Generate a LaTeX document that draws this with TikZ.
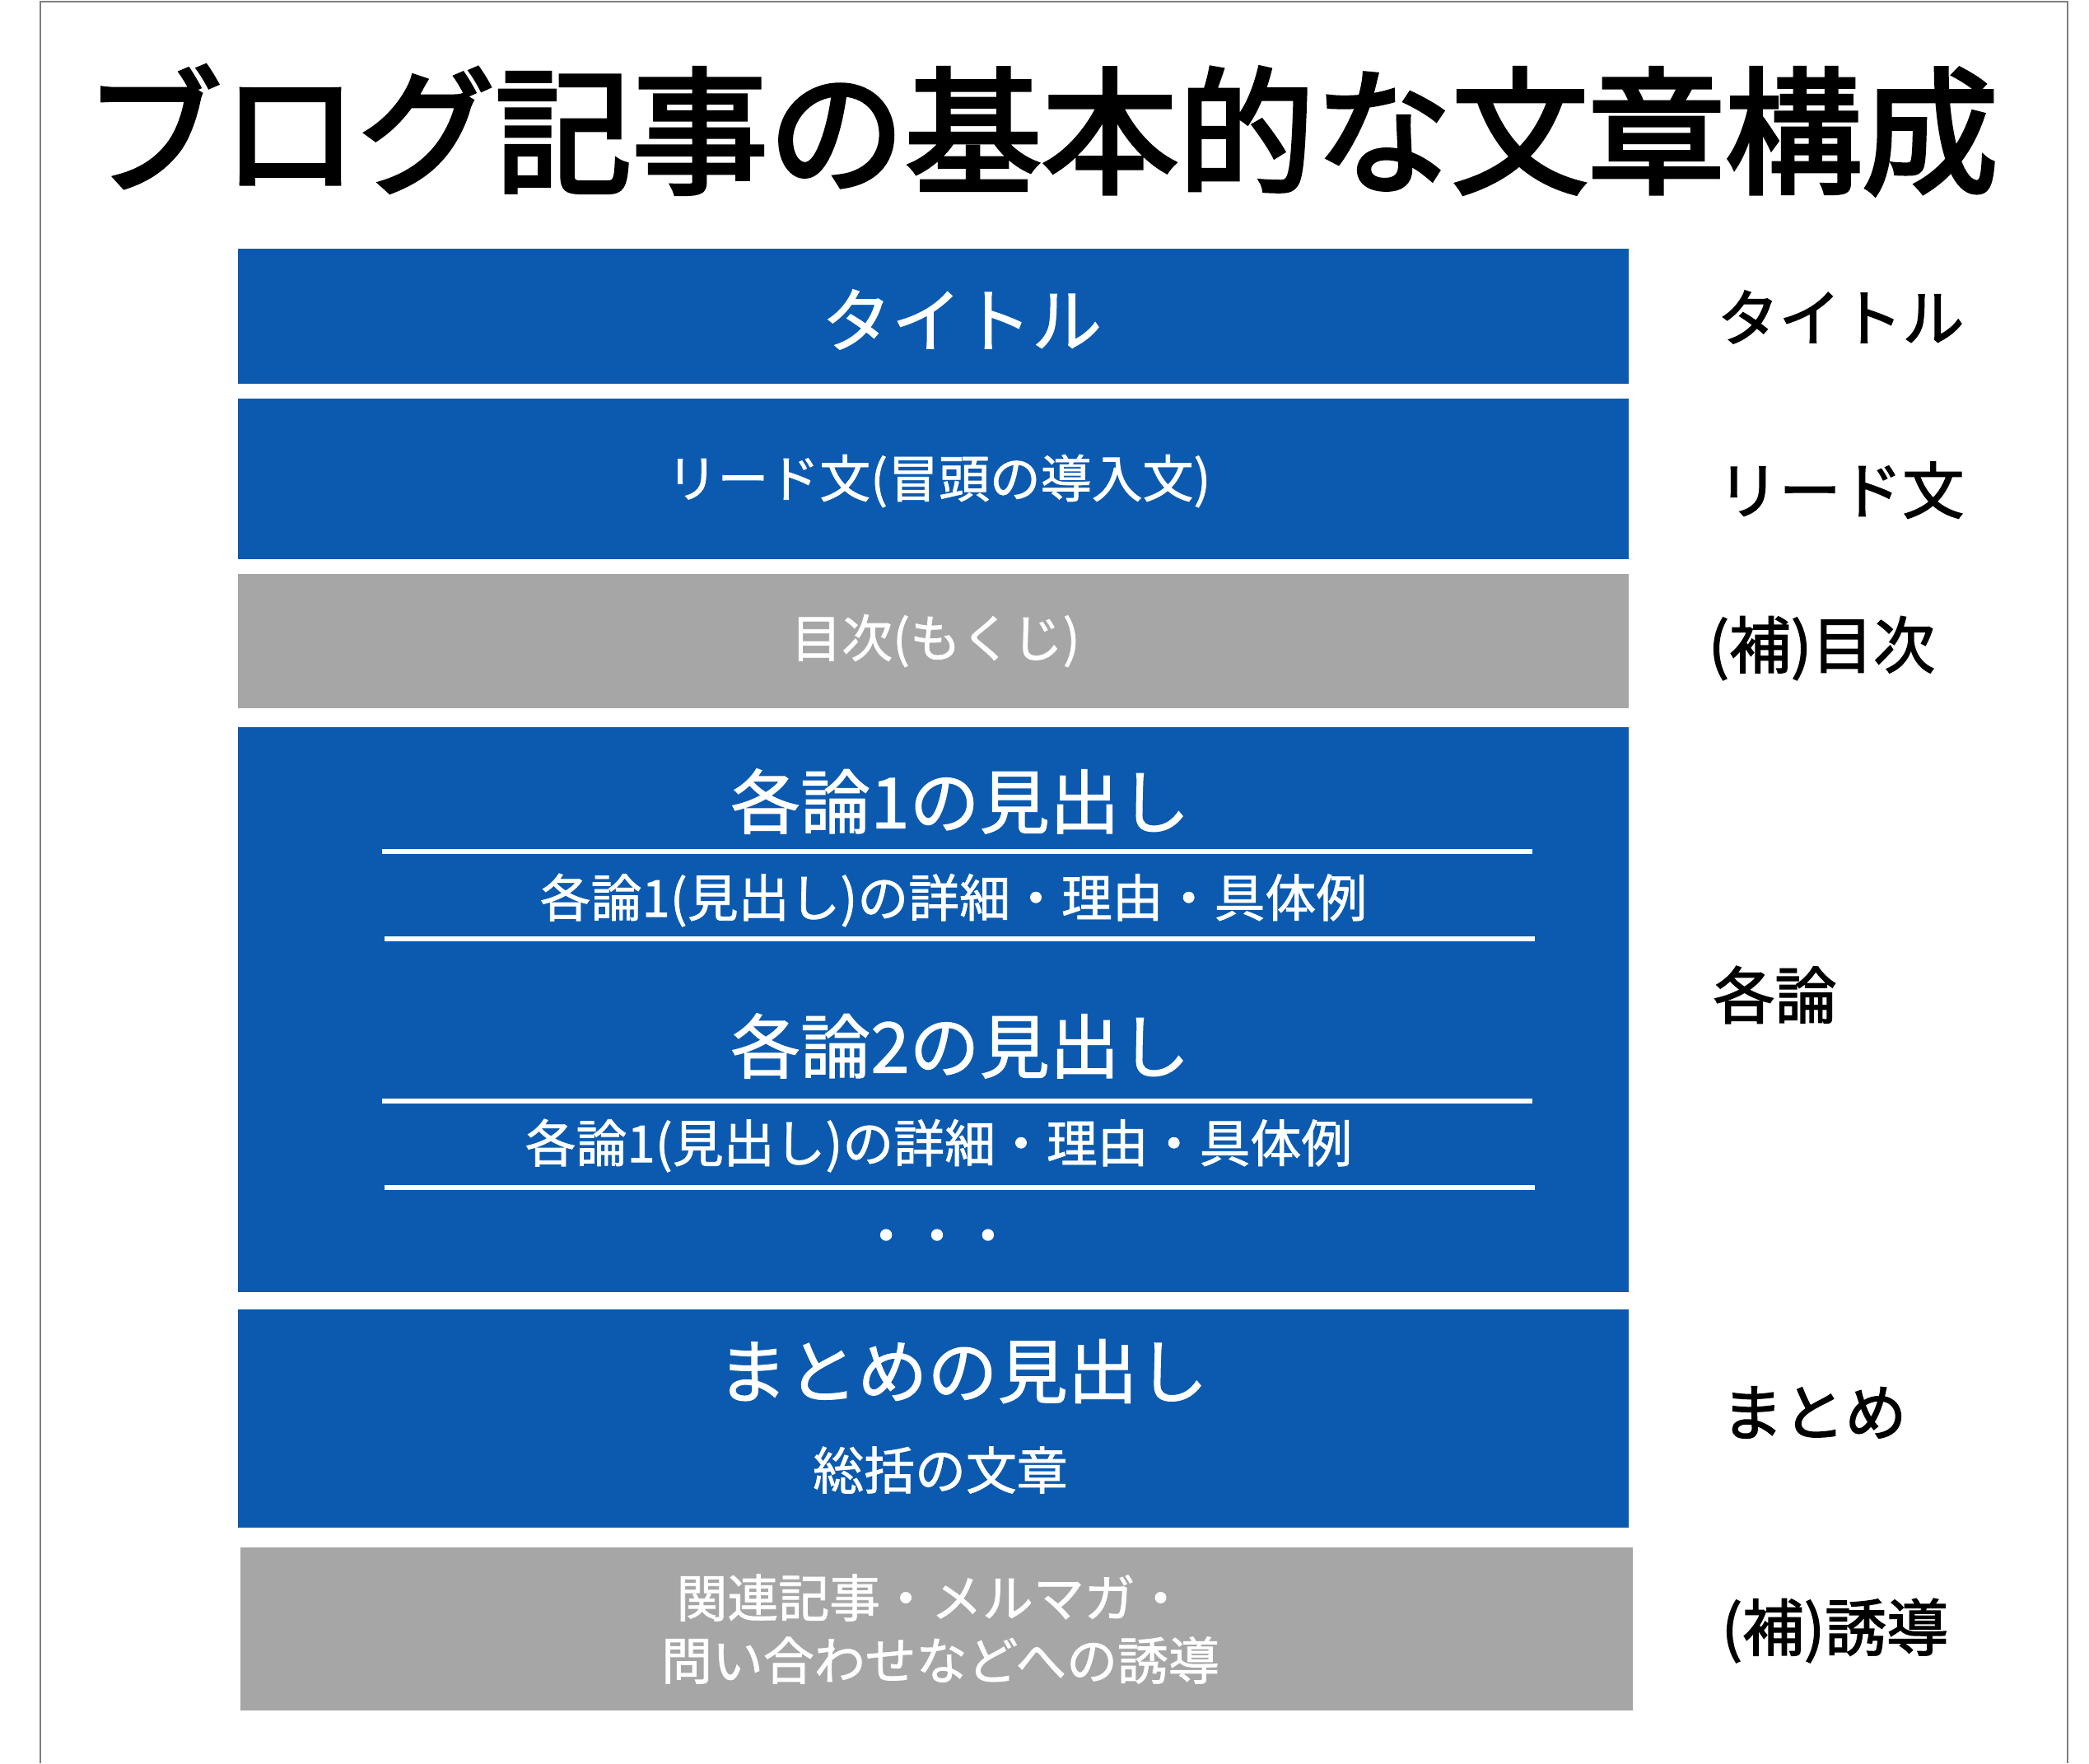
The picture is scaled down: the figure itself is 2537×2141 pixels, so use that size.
\documentclass[tikz,border=0pt]{standalone}
\usepackage{fontspec}
\setmainfont{Noto Sans CJK JP}[FakeBold=1.2]
\newfontfamily\titlefont{Noto Sans CJK JP}[FakeBold=3]
\newfontfamily\sidefont{Noto Sans CJK JP}[FakeBold=2]
\usepackage{xcolor}
\usepackage{tikz}
\definecolor{boxblue}{HTML}{0B5AAF}
\definecolor{boxgray}{HTML}{A6A6A6}
\definecolor{framegray}{HTML}{7F7F7F}

\begin{document}
\begin{tikzpicture}[x=0.01cm,y=-0.01cm,
                head/.style={text=white,font=\fontsize{24.2}{28}\selectfont},
                body/.style={text=white,font=\fontsize{17.6}{21}\selectfont},
                side/.style={anchor=west,font=\sidefont\fontsize{21.3}{25}\selectfont},
                rule/.style={draw=white,line width=0.06cm}]
                \tikzstyle{every node}+=[inner sep=0pt]
                \useasboundingbox (0,0) rectangle (2537,2141);
                \draw [framegray,line width=0.025cm] (49,2141) -- (49,2) -- (2511,2) -- (2511,2141);
                \node (title) at (1265,158) {\titlefont\fontsize{47.2}{50}\selectfont ブログ記事の基本的な文章構成};
                \fill [boxblue] (289,302) rectangle (1978,466);
                \node [head] (ttl) at (1168,388) {タイトル};
                \fill [boxblue] (289,484) rectangle (1978,679);
                \node [body] (lead) at (1140,584) {リード文(冒頭の導入文)};
                \fill [boxgray] (289,697) rectangle (1978,860);
                \node [body] (toc) at (1136,778) {目次(もくじ)};
                \fill [boxblue] (289,883) rectangle (1978,1569);
                \node [head] (h1) at (1166,973) {各論1の見出し};
                \coordinate (r1a) at (464,1034);
                \coordinate (r1b) at (1861,1034);
                \draw [rule] (r1a) -- (r1b);
                \node [body] (d1) at (1158,1093) {各論1(見出し)の詳細・理由・具体例};
                \coordinate (r2a) at (467,1140);
                \coordinate (r2b) at (1864,1140);
                \draw [rule] (r2a) -- (r2b);
                \node [head] (h2) at (1166,1270) {各論2の見出し};
                \coordinate (r3a) at (464,1337);
                \coordinate (r3b) at (1861,1337);
                \draw [rule] (r3a) -- (r3b);
                \node [body] (d2) at (1140,1391) {各論1(見出し)の詳細・理由・具体例};
                \coordinate (r4a) at (467,1442);
                \coordinate (r4b) at (1864,1442);
                \draw [rule] (r4a) -- (r4b);
                \node [body] (dots) at (1138,1508) {\sidefont ・・・};
                \fill [boxblue] (289,1590) rectangle (1978,1855);
                \node [head] (sumh) at (1169,1665) {まとめの見出し};
                \node [body] (sumt) at (1142,1785) {総括の文章};
                \fill [boxgray] (292,1879) rectangle (1983,2077);
                \node [body] (link1) at (1131,1940) {関連記事・メルマガ・};
                \node [body] (link2) at (1142,2016) {問い合わせなどへの誘導};
                \node [side] (s1) at (2085,385) {タイトル};
                \node [side] (s2) at (2085,595) {リード文};
                \node [side] (s3) at (2074,787) {(補)目次};
                \node [side] (s4) at (2080,1208) {各論};
                \node [side] (s5) at (2090,1715) {まとめ};
                \node [side] (s6) at (2090,1980) {(補)誘導};
            \end{tikzpicture}
\end{document}
